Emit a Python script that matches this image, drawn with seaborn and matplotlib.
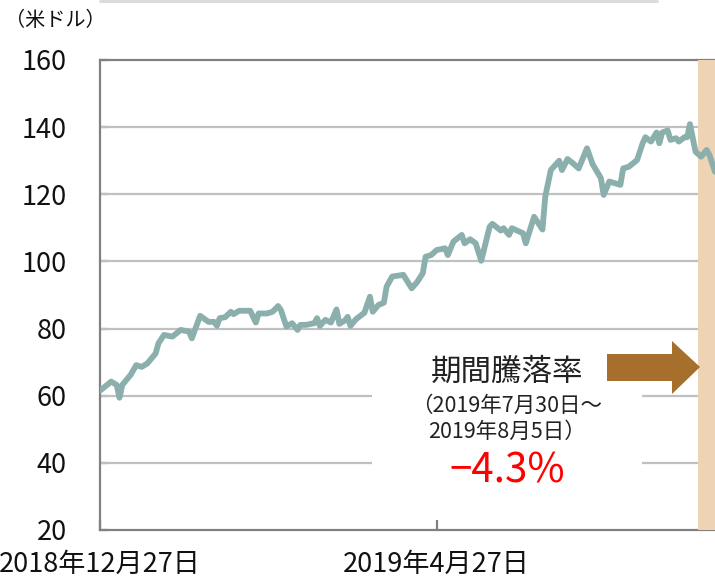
import matplotlib
matplotlib.use('Agg')
import matplotlib.pyplot as plt
import seaborn as sns
import numpy as np
import pandas as pd
from matplotlib.patches import Polygon, Rectangle
from matplotlib.lines import Line2D

# 株価データ（米ドル）
dates = ['2018-12-27', '2018-12-31', '2019-01-02', '2019-01-03', '2019-01-04', '2019-01-07', '2019-01-09',
         '2019-01-11', '2019-01-13', '2019-01-16', '2019-01-17', '2019-01-19', '2019-01-22', '2019-01-25',
         '2019-01-28', '2019-01-29', '2019-01-31', '2019-02-01', '2019-02-04', '2019-02-06', '2019-02-07',
         '2019-02-08', '2019-02-10', '2019-02-12', '2019-02-13', '2019-02-15', '2019-02-19', '2019-02-21',
         '2019-02-22', '2019-02-25', '2019-02-27', '2019-03-01', '2019-03-02', '2019-03-04', '2019-03-06',
         '2019-03-08', '2019-03-09', '2019-03-11', '2019-03-14', '2019-03-15', '2019-03-16', '2019-03-18',
         '2019-03-20', '2019-03-22', '2019-03-23', '2019-03-25', '2019-03-26', '2019-03-27', '2019-03-29',
         '2019-04-01', '2019-04-03', '2019-04-04', '2019-04-06', '2019-04-08', '2019-04-09', '2019-04-11',
         '2019-04-15', '2019-04-18', '2019-04-20', '2019-04-22', '2019-04-23', '2019-04-25', '2019-04-27',
         '2019-04-30', '2019-05-01', '2019-05-03', '2019-05-06', '2019-05-07', '2019-05-09', '2019-05-11',
         '2019-05-13', '2019-05-16', '2019-05-17', '2019-05-20', '2019-05-21', '2019-05-23', '2019-05-24',
         '2019-05-28', '2019-05-29', '2019-06-01', '2019-06-04', '2019-06-05', '2019-06-07', '2019-06-10',
         '2019-06-11', '2019-06-13', '2019-06-15', '2019-06-17', '2019-06-19', '2019-06-20', '2019-06-22',
         '2019-06-25', '2019-06-26', '2019-06-28', '2019-07-02', '2019-07-03', '2019-07-05', '2019-07-08',
         '2019-07-10', '2019-07-11', '2019-07-13', '2019-07-15', '2019-07-16', '2019-07-17', '2019-07-19',
         '2019-07-20', '2019-07-22', '2019-07-23', '2019-07-25', '2019-07-26', '2019-07-27', '2019-07-29',
         '2019-07-31', '2019-08-02', '2019-08-03', '2019-08-05']
prices = [61.5, 64.2, 63.2, 59.4, 63.2, 66.2, 69.1, 68.6, 69.6, 72.6,
          75.6, 78.1, 77.6, 79.6, 79.1, 77.1, 81.6, 83.8, 82.0, 82.0,
          80.8, 83.1, 83.4, 85.0, 84.3, 85.3, 85.3, 81.8, 84.5, 84.5,
          85.0, 86.7, 85.5, 80.6, 81.6, 79.6, 81.1, 81.1, 81.6, 83.1,
          80.8, 82.6, 81.8, 85.7, 81.4, 82.4, 83.5, 80.8, 82.8, 84.7,
          89.5, 85.0, 87.0, 87.7, 92.5, 95.5, 96.0, 92.0, 93.9, 96.5,
          101.4, 101.9, 103.4, 103.9, 101.9, 105.9, 107.9, 105.4, 106.6, 105.4,
          100.2, 110.3, 111.2, 109.2, 109.9, 107.9, 109.9, 108.4, 105.4, 113.3,
          109.5, 119.3, 127.2, 130.0, 127.2, 130.5, 129.2, 127.7, 131.7, 133.7,
          129.0, 124.8, 119.8, 123.8, 122.8, 127.7, 128.2, 130.2, 135.2, 137.0,
          135.7, 138.4, 135.2, 138.4, 139.0, 136.2, 136.7, 135.7, 137.0, 137.0,
          140.9, 132.7, 131.2, 133.2, 131.7, 126.7]

x_start, x_end = '2018-12-27', '2019-08-05'
period_start, period_end = '2019-07-30', '2019-08-05'
xtick_dates = ['2018-12-27', '2019-04-27']
xtick_labels = ['2018年12月27日', '2019年4月27日']
yticks = [20, 40, 60, 80, 100, 120, 140, 160]

unit_label = '（米ドル）'
box_title = '期間騰落率'
box_period = '（2019年7月30日～\n2019年8月5日）'
box_change = '−4.3%'

df = pd.DataFrame({'date': pd.to_datetime(dates), 'price': prices})

sns.set_theme(style='white')
plt.rcParams['font.family'] = ['Noto Sans CJK JP', 'DejaVu Sans']

W, H = 715, 581
fig = plt.figure(figsize=(W / 100, H / 100), dpi=100)
L, R, T, B = 100, 715, 60, 530
ax = fig.add_axes([L / W, 1 - B / H, (R - L) / W, (B - T) / H])

gray = '#808080'
ax.axvspan(pd.Timestamp(period_start), pd.Timestamp(period_end), color='#eed3b4', lw=0, zorder=3)
for v in yticks[1:-1]:
    ax.axhline(v, color='#c0c0c0', lw=1.6, zorder=1)

sns.lineplot(data=df, x='date', y='price', ax=ax, color='#8aafad', linewidth=4.2, zorder=4)

ax.set_xlim(pd.Timestamp(x_start), pd.Timestamp(x_end))
ax.set_ylim(20, 160)
ax.set_yticks(yticks)
ax.set_xticks(pd.to_datetime(xtick_dates))
ax.set_xticklabels(xtick_labels)
ax.set_xlabel('')
ax.set_ylabel('')
ax.tick_params(axis='y', direction='in', length=6, width=1.6, color=gray, pad=24, labelsize=19.5, labelcolor='#111111')
ax.tick_params(axis='x', direction='in', length=7, width=1.6, color=gray, pad=15, labelsize=19.5, labelcolor='#111111')
ax.tick_params(left=True, bottom=True)
for s in ['left', 'bottom', 'top']:
    ax.spines[s].set_color(gray)
    ax.spines[s].set_linewidth(1.6)
ax.spines['right'].set_visible(False)


def px(xp, yp):
    return ((xp - L) / (R - L), (B - yp) / (B - T))


# テキストの背景
x0, y0 = px(372, 495)
x1, y1 = px(642, 340)
ax.add_patch(Rectangle((x0, y0), x1 - x0, y1 - y0, transform=ax.transAxes,
                       facecolor='white', edgecolor='none', zorder=2.5))

# 矢印
arrow_pts = [px(607, 354), px(672, 354), px(672, 341), px(700, 367),
             px(672, 394), px(672, 381), px(607, 381)]
ax.add_patch(Polygon(arrow_pts, closed=True, transform=ax.transAxes,
                     facecolor='#a66f2c', edgecolor='none', zorder=5, clip_on=False))

cx = 507 / W
fig.text(cx, 1 - 372 / H, box_title, ha='center', va='center', fontsize=22, color='#222222')
fig.text(cx, 1 - 419 / H, box_period, ha='center', va='center', fontsize=15.5,
         color='#222222', linespacing=1.2)
fig.text(cx, 1 - 471 / H, box_change, ha='center', va='center', fontsize=29, color='#ff0000')

fig.text(5 / W, 1 - 21 / H, unit_label, ha='left', va='center', fontsize=14.5, color='#111111')

fig.add_artist(Line2D([100 / W, 657 / W], [1 - 1 / H, 1 - 1 / H], color='#d9d9d9', lw=2))

fig.savefig('out.png', dpi=100)
